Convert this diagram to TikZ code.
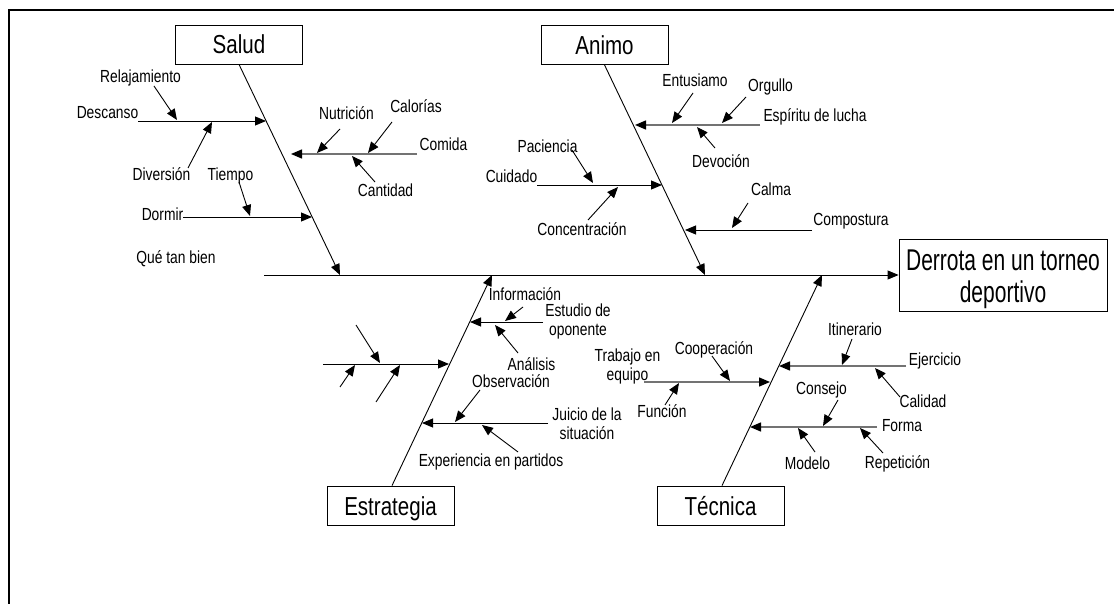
\documentclass[tikz,border=0pt]{standalone}
\usepackage{fontspec}
\setmainfont{Liberation Sans}
\newfontfamily\narrowsans{Liberation Sans}[FakeStretch=0.79]
\newfontfamily\widesans{Liberation Sans}[FakeStretch=0.7]
\usetikzlibrary{arrows.meta}

\begin{document}
\begin{tikzpicture}[x=1pt,y=-1pt,
  lbl/.style={font=\narrowsans\fontsize{17.5}{19}\selectfont, inner sep=0pt, anchor=base},
  lbltwo/.style={font=\narrowsans\fontsize{17.5}{19.5}\selectfont, inner sep=0pt, anchor=north, align=center},
  cat/.style={draw, line width=0.8pt, font=\narrowsans\fontsize{26}{28}\selectfont,
    minimum width=127pt, minimum height=39pt, inner sep=0pt, text height=19pt, text depth=0pt},
  effectbox/.style={draw, line width=0.8pt, font=\widesans\fontsize{30}{32}\selectfont,
    minimum width=208pt, minimum height=72pt, inner sep=0pt, align=center},
  arr/.style={line width=0.9pt, -{Triangle[length=11pt,width=9pt,color=black]}},
  garr/.style={arr, draw=black!55, line width=1.4pt},
  bone/.style={line width=0.9pt, -{Triangle[length=11pt,width=9pt]}}
]
\useasboundingbox (0,0) rectangle (1114,604);

% outer frame (top and left edges)
\coordinate (fbl) at (9,605);
\coordinate (ftl) at (9,10);
\coordinate (ftr) at (1115,10);
\draw[line width=2pt] (fbl) -- (ftl) -- (ftr);

% effect and spine
\node[effectbox] (effect) at (1003,275) {\rule{0pt}{30pt}Derrota en un torneo\\deportivo};
\coordinate (spine0) at (264,275);
\draw[bone] (spine0) -- (effect.west);

% category boxes
\node[cat] (salud) at (239,44.5) {Salud};
\node[cat] (animo) at (604.5,45) {Animo};
\node[cat] (estr) at (390.5,505.5) {Estrategia};
\node[cat] (tecn) at (720.5,505.5) {Técnica};

% main bones
\coordinate (saludtip) at (340,275);
\coordinate (animotip) at (705,275);
\coordinate (estrtip) at (492,275);
\coordinate (tecntip) at (822,275);
\draw[bone] (salud.south) -- (saludtip);
\draw[bone] (animo.south) -- (animotip);
\draw[bone] (estr.north -| 392,0) -- (estrtip);
\draw[bone] (tecn.north -| 722,0) -- (tecntip);

% ---------------- Salud ----------------
\node[lbl] (relaj) at (140.5,83) {Relajamiento};
\node[lbl] (descanso) at (107.5,118.5) {Descanso};
\node[lbl] (diversion) at (161.5,181) {Diversión};
\node[lbl] (tiempo) at (230.5,181) {Tiempo};
\node[lbl] (dormir) at (162.5,221) {Dormir};
\node[lbl] (quetan) at (176,263) {Qué tan bien};
\node[lbl] (nutricion) at (346.5,119.5) {Nutrición};
\node[lbl] (calorias) at (416,113) {Calorías};
\node[lbl] (comida) at (443.5,151) {Comida};
\node[lbl] (cantidad) at (385.5,197) {Cantidad};

\coordinate (descanso0) at (138,121);  \coordinate (descanso1) at (266,121);
\draw[arr] (descanso0) -- (descanso1);
\coordinate (relaj0) at (154,86);      \coordinate (relaj1) at (177,120);
\draw[arr] (relaj0) -- (relaj1);
\coordinate (divers0) at (188,168);    \coordinate (divers1) at (212,122);
\draw[arr] (divers0) -- (divers1);
\coordinate (dormir0) at (183,217);    \coordinate (dormir1) at (312,217);
\draw[arr] (dormir0) -- (dormir1);
\coordinate (tiempo0) at (239,182);    \coordinate (tiempo1) at (250,216);
\draw[arr] (tiempo0) -- (tiempo1);
\coordinate (comida0) at (417,154);    \coordinate (comida1) at (291,154);
\draw[garr] (comida0) -- (comida1);
\coordinate (nutri0) at (340,129);     \coordinate (nutri1) at (317,153);
\draw[arr] (nutri0) -- (nutri1);
\coordinate (calor0) at (392,122);     \coordinate (calor1) at (368,153);
\draw[arr] (calor0) -- (calor1);
\coordinate (cantid0) at (375,182);    \coordinate (cantid1) at (352,156);
\draw[arr] (cantid0) -- (cantid1);

% ---------------- Animo ----------------
\node[lbl] (entus) at (695,87) {Entusiamo};
\node[lbl] (orgullo) at (770.5,92) {Orgullo};
\node[lbl] (espiritu) at (815,122) {Espíritu de lucha};
\node[lbl] (devocion) at (721,168) {Devoción};
\node[lbl] (paciencia) at (547.5,153) {Paciencia};
\node[lbl] (cuidado) at (511.5,182.5) {Cuidado};
\node[lbl] (concen) at (582,236) {Concentración};
\node[lbl] (calma) at (771,196) {Calma};
\node[lbl] (compost) at (851,226) {Compostura};

\coordinate (espir0) at (760,125);     \coordinate (espir1) at (635,125);
\draw[garr] (espir0) -- (espir1);
\coordinate (entus0) at (693,93);      \coordinate (entus1) at (672,123);
\draw[arr] (entus0) -- (entus1);
\coordinate (orgul0) at (746,97);      \coordinate (orgul1) at (722,123);
\draw[arr] (orgul0) -- (orgul1);
\coordinate (devoc0) at (715,148);     \coordinate (devoc1) at (697,127);
\draw[arr] (devoc0) -- (devoc1);
\coordinate (cuid0) at (537,185);      \coordinate (cuid1) at (662,185);
\draw[arr] (cuid0) -- (cuid1);
\coordinate (pacien0) at (572,150);    \coordinate (pacien1) at (593,183);
\draw[arr] (pacien0) -- (pacien1);
\coordinate (concen0) at (588,220);    \coordinate (concen1) at (618,187);
\draw[arr] (concen0) -- (concen1);
\coordinate (compo0) at (812,230);     \coordinate (compo1) at (685,230);
\draw[arr] (compo0) -- (compo1);
\coordinate (calma0) at (748,203);     \coordinate (calma1) at (732,228);
\draw[arr] (calma0) -- (calma1);

% ---------------- Estrategia ----------------
\node[lbl] (info) at (525,300) {Información};
\node[lbltwo] (estudio) at (578,303.6) {Estudio de\\oponente};
\node[lbl] (analisis) at (531.5,370) {Análisis};
\node[lbl] (observ) at (511,387) {Observación};
\node[lbltwo] (juicio) at (587,407.6) {Juicio de la\\situación};
\node[lbl] (experi) at (491,466) {Experiencia en partidos};

\coordinate (estud0) at (543,322);     \coordinate (estud1) at (470,322);
\draw[arr] (estud0) -- (estud1);
\coordinate (info0) at (523,307);      \coordinate (info1) at (505,321);
\draw[arr] (info0) -- (info1);
\coordinate (anal0) at (518,353);      \coordinate (anal1) at (495,325);
\draw[arr] (anal0) -- (anal1);
\coordinate (blank0) at (323,364);     \coordinate (blank1) at (449,364);
\draw[arr] (blank0) -- (blank1);
\coordinate (blankA0) at (356,325);    \coordinate (blankA1) at (380,363);
\draw[arr] (blankA0) -- (blankA1);
\coordinate (blankB0) at (340,387);    \coordinate (blankB1) at (355,365);
\draw[arr] (blankB0) -- (blankB1);
\coordinate (blankC0) at (376,402);    \coordinate (blankC1) at (400,365);
\draw[arr] (blankC0) -- (blankC1);
\coordinate (juicio0) at (548,423);    \coordinate (juicio1) at (422,423);
\draw[arr] (juicio0) -- (juicio1);
\coordinate (observ0) at (480,390);    \coordinate (observ1) at (455,422);
\draw[arr] (observ0) -- (observ1);
\coordinate (experi0) at (518,452);    \coordinate (experi1) at (482,425);
\draw[arr] (experi0) -- (experi1);

% ---------------- Técnica ----------------
\node[lbl] (itiner) at (855,335) {Itinerario};
\node[lbl] (ejerc) at (935,365) {Ejercicio};
\node[lbl] (calidad) at (923,407) {Calidad};
\node[lbltwo] (trabajo) at (627.5,348.6) {Trabajo en\\equipo};
\node[lbl] (cooper) at (714,354) {Cooperación};
\node[lbl] (funcion) at (662,417) {Función};
\node[lbl] (consejo) at (821.5,394) {Consejo};
\node[lbl] (forma) at (902,431) {Forma};
\node[lbl] (modelo) at (807.5,469) {Modelo};
\node[lbl] (repet) at (897.5,468) {Repetición};

\coordinate (ejerc0) at (906,366);     \coordinate (ejerc1) at (779,366);
\draw[garr] (ejerc0) -- (ejerc1);
\coordinate (itiner0) at (852,339);    \coordinate (itiner1) at (842,365);
\draw[arr] (itiner0) -- (itiner1);
\coordinate (calid0) at (900,397);     \coordinate (calid1) at (875,368);
\draw[arr] (calid0) -- (calid1);
\coordinate (trab0) at (644,382);      \coordinate (trab1) at (770,382);
\draw[garr] (trab0) -- (trab1);
\coordinate (coop0) at (712,356);      \coordinate (coop1) at (730,381);
\draw[arr] (coop0) -- (coop1);
\coordinate (func0) at (665,405);      \coordinate (func1) at (679,383);
\draw[arr] (func0) -- (func1);
\coordinate (forma0) at (877,427);     \coordinate (forma1) at (750,427);
\draw[garr] (forma0) -- (forma1);
\coordinate (consej0) at (838,400);    \coordinate (consej1) at (823,426);
\draw[arr] (consej0) -- (consej1);
\coordinate (model0) at (815,452);     \coordinate (model1) at (798,428);
\draw[arr] (model0) -- (model1);
\coordinate (repet0) at (883,453);     \coordinate (repet1) at (860,428);
\draw[arr] (repet0) -- (repet1);

\end{tikzpicture}
\end{document}
